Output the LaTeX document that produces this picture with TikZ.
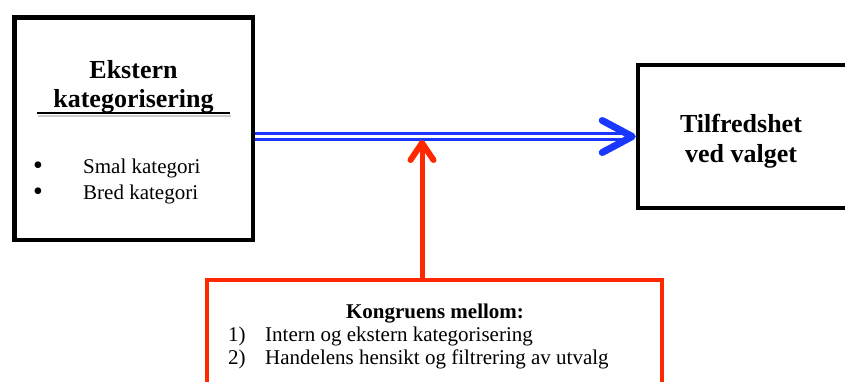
\documentclass[tikz,border=0pt]{standalone}
\usepackage{fontspec}
\setmainfont{Liberation Serif}
\usepackage{xcolor}
\usepackage{tikz}
\usetikzlibrary{arrows.meta,calc,positioning}
\definecolor{blaa}{RGB}{25,55,255}
\definecolor{roed}{RGB}{255,40,0}
\tikzset{
  boks/.style={draw=black,line width=4.5pt,rectangle,inner sep=0pt},
  rodboks/.style={draw=roed,line width=4pt,rectangle,inner sep=0pt},
  tittel/.style={anchor=base,inner sep=0pt,font=\fontsize{26}{30}\selectfont\bfseries},
  tekst/.style={anchor=base west,inner sep=0pt,font=\fontsize{21}{24}\selectfont},
  kule/.style={anchor=base,inner sep=0pt,font=\fontsize{28}{30}\selectfont},
  blaapil/.style={draw=blaa,double=white,double distance=2.4pt,line width=3pt,
    -{Straight Barb[length=30pt,width=32pt,line width=7pt,round]}},
  rodpil/.style={draw=roed,line width=5pt,
    -{Straight Barb[length=17pt,width=23pt,line width=6pt,round]}}
}

\begin{document}
\begin{tikzpicture}[x=1pt,y=1pt]
\useasboundingbox (0,0) rectangle (845,-381);
% boksene
\node[boks,minimum width=238.5pt,minimum height=222.5pt] (ekstern) at (133.5,-128.5) {};
\node[boks,minimum width=212pt,minimum height=143pt] (tilfreds) at (744,-136.5) {};
\node[rodboks,minimum width=455pt,minimum height=120pt] (kongruens) at (434.5,-340) {};
% venstre boks
\node[tittel] (ekstern1) at (133.5,-78) {Ekstern};
\node[tittel] (ekstern2) at (133.5,-107) {kategorisering};
\draw[gray!40,line width=2pt] (38,-115.5)--(231,-115.5);
\draw[black,line width=2pt] (37,-113)--(230,-113);
\node[kule] (kule1) at (38,-174) {\textbullet};
\node[tekst] (smal) at (83,-173) {Smal kategori};
\node[kule] (kule2) at (38,-200) {\textbullet};
\node[tekst] (bred) at (83,-199) {Bred kategori};
% hoyre boks
\node[tittel] (tilfreds1) at (741,-132) {Tilfredshet};
\node[tittel] (tilfreds2) at (741,-162) {ved valget};
% rod boks
\node[tittel,font=\fontsize{21}{24}\selectfont\bfseries] (kongtittel) at (435,-318) {Kongruens mellom:};
\node[tekst] (nr1) at (228,-341) {1)};
\node[tekst] (punkt1) at (265,-341) {Intern og ekstern kategorisering};
\node[tekst] (nr2) at (228,-364) {2)};
\node[tekst] (punkt2) at (265,-364) {Handelens hensikt og filtrering av utvalg};
% pilene
\coordinate (treff) at (422,-140);
\draw[blaapil] (ekstern.east |- tilfreds.west) -- (tilfreds.west);
\draw[rodpil] (kongruens.north -| treff) -- (treff);
\end{tikzpicture}
\end{document}
